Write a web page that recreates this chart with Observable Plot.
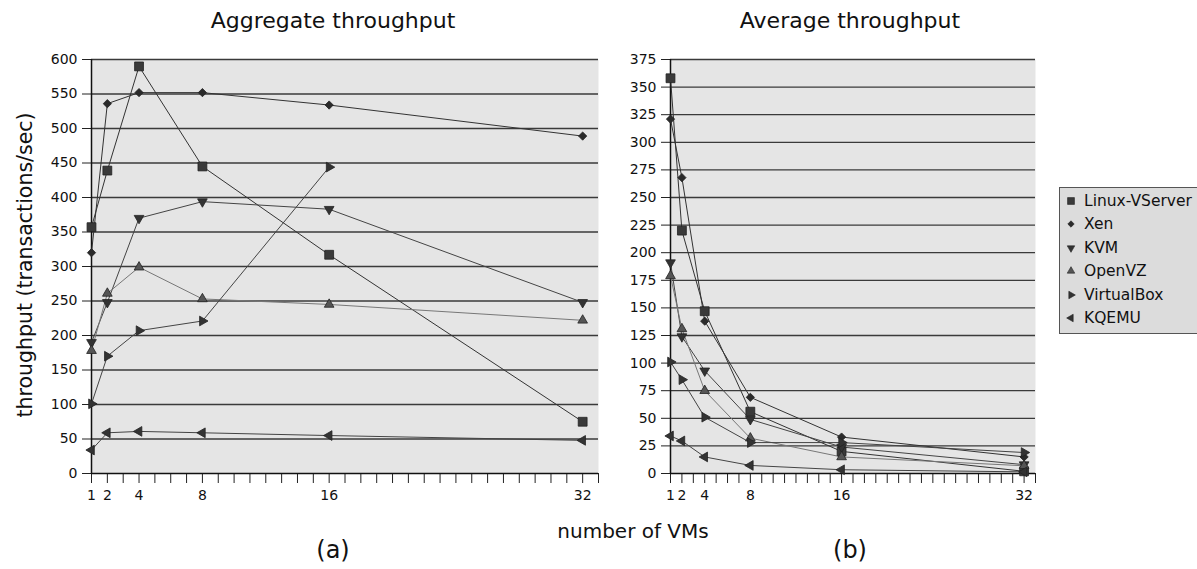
<!DOCTYPE html>
<html><head><meta charset="utf-8">
<script src="https://cdn.jsdelivr.net/npm/d3@7"></script>
<script src="https://cdn.jsdelivr.net/npm/@observablehq/plot@0.6"></script>
<style>
body{margin:0;background:#fff;font-family:"DejaVu Sans",sans-serif;}
#root{position:relative;width:1197px;height:569px;overflow:hidden;}
#root svg text{font-size:14px !important;font-family:"DejaVu Sans",sans-serif !important;fill:#111;}
.abs{position:absolute;}
.t{font-size:22px;color:#111;white-space:nowrap;transform:translateX(-50%);}
#legend{position:absolute;left:1059px;top:187px;width:150px;height:147px;background:#dcdcdc;border:1px solid #555;box-sizing:border-box;}
.li{position:absolute;left:3px;font-size:15.5px;color:#111;white-space:nowrap;display:flex;align-items:center;}
</style></head>
<body><div id="root"></div>
<script>
const vms = [1, 2, 4, 8, 16, 32];
const series = ["Linux-VServer", "Xen", "KVM", "OpenVZ", "VirtualBox", "KQEMU"];
const xTickLabels = [1, 2, 4, 8, 16, 32];

// Aggregate throughput (transactions/sec)
const aggVServer = [357, 439, 590, 445, 317, 75];
const aggXen = [320, 536, 552, 552, 534, 489];
const aggKVM = [190, 248, 370, 394, 383, 248];
const aggOpenVZ = [178, 261, 299, 253, 245, 222];
const aggVirtualBox = [101, 170, 207, 221, 444, null];
const aggKQEMU = [34, 59, 61, 59, 55, 48];

// Average throughput (transactions/sec)
const avgVServer = [358, 220, 147, 56, 20, 2];
const avgXen = [321, 268, 138, 69, 33, 15];
const avgKVM = [191, 124, 93, 49, 24, 8];
const avgOpenVZ = [179, 131, 75, 32, 15, 7];
const avgVirtualBox = [101, 85, 51, 28, 28, 19];
const avgKQEMU = [34, 29.5, 15, 7.3, 3.4, 1.5];

function tri(angle) {
  return { draw(ctx, size) {
    const R = Math.sqrt(size / (3 * Math.sqrt(3) / 4));
    for (let i = 0; i < 3; i++) {
      const a = angle + i * 2 * Math.PI / 3;
      const px = R * Math.cos(a), py = R * Math.sin(a);
      if (i === 0) ctx.moveTo(px, py); else ctx.lineTo(px, py);
    }
    ctx.closePath();
  }};
}
const diamond = { draw(ctx, size) {
  const h = Math.sqrt(size / 2);
  ctx.moveTo(0, -h); ctx.lineTo(h, 0); ctx.lineTo(0, h); ctx.lineTo(-h, 0); ctx.closePath();
}};
const styles = {
  "Linux-VServer": {symbol: "square", r: 5.0, fill: "#3a3a3a", line: "#333"},
  "Xen": {symbol: diamond, r: 3.3, fill: "#2a2a2a", line: "#333"},
  "KVM": {symbol: tri(Math.PI / 2), r: 3.6, fill: "#333", line: "#444"},
  "OpenVZ": {symbol: tri(-Math.PI / 2), r: 3.6, fill: "#555", line: "#777"},
  "VirtualBox": {symbol: tri(0), r: 3.6, fill: "#333", line: "#444"},
  "KQEMU": {symbol: tri(Math.PI), r: 3.6, fill: "#333", line: "#444"}
};

function rows(arrs) {
  const out = [];
  series.forEach((s, i) => vms.forEach((n, j) => {
    if (arrs[i][j] != null) out.push({series: s, n, v: arrs[i][j]});
  }));
  return out;
}
const aggRows = rows([aggVServer, aggXen, aggKVM, aggOpenVZ, aggVirtualBox, aggKQEMU]);
const avgRows = rows([avgVServer, avgXen, avgKVM, avgOpenVZ, avgVirtualBox, avgKQEMU]);

function panel(data, ymax, ystep, width, ml, mr) {
  const grid = d3.range(ystep, ymax + ystep / 2, ystep);
  const marks = [
    Plot.frame({fill: "#e5e5e5", stroke: null}),
    Plot.ruleY(grid, {stroke: "#3a3a3a", strokeWidth: 1.3}),
    Plot.axisY({ticks: d3.range(0, ymax + ystep / 2, ystep), tickSize: 9, tickPadding: 5, label: null, stroke: "#222"}),
    Plot.axisX({ticks: d3.range(1, 34), tickSize: 10, tickPadding: 7, label: null, stroke: "#222",
      tickFormat: d => xTickLabels.includes(d) ? String(d) : ""}),
    Plot.ruleX([1], {stroke: "#111", strokeWidth: 1.5}),
    Plot.ruleY([0], {stroke: "#111", strokeWidth: 1.5})
  ];
  for (const s of series) {
    const st = styles[s];
    const d = data.filter(r => r.series === s);
    marks.push(Plot.line(d, {x: "n", y: "v", stroke: st.line, strokeWidth: 1}));
  }
  for (const s of series) {
    const st = styles[s];
    const d = data.filter(r => r.series === s);
    marks.push(Plot.dot(d, {x: "n", y: "v", symbol: st.symbol, r: st.r, fill: st.fill, stroke: "#222", strokeWidth: 0.8}));
  }
  return Plot.plot({
    width, height: 569,
    marginLeft: ml, marginRight: mr, marginTop: 59, marginBottom: 96,
    x: {domain: [1, 33]},
    y: {domain: [0, ymax]},
    style: {fontFamily: "DejaVu Sans, sans-serif", fontSize: "14px", background: "transparent", color: "#111", overflow: "visible"},
    marks
  });
}

const root = document.getElementById("root");
const p1 = panel(aggRows, 600, 50, 610, 91, 12);
p1.style.position = "absolute"; p1.style.left = "0px"; p1.style.top = "0px";
root.appendChild(p1);
const p2 = panel(avgRows, 375, 25, 450, 70, 15);
p2.style.position = "absolute"; p2.style.left = "600px"; p2.style.top = "0px";
root.appendChild(p2);

function addText(txt, x, y, size, extra) {
  const d = document.createElement("div");
  d.className = "abs t"; d.textContent = txt;
  d.style.left = x + "px"; d.style.top = y + "px"; d.style.fontSize = size + "px";
  if (extra) Object.assign(d.style, extra);
  root.appendChild(d);
}
addText("Aggregate throughput", 333, 8, 22);
addText("Average throughput", 850, 8, 22);
addText("number of VMs", 633, 519, 20);
addText("(a)", 333, 536, 24);
addText("(b)", 850, 536, 24);
addText("throughput (transactions/sec)", 25, 265, 20.5, {transform: "translate(-50%,-50%) rotate(-90deg)"});

const lg = document.createElement("div"); lg.id = "legend";
series.forEach((s, i) => {
  const st = styles[s];
  const item = document.createElement("div"); item.className = "li";
  item.style.top = (4 + i * 23.4) + "px";
  const sym = d3.symbol(st.symbol === "square" ? d3.symbolSquare : st.symbol, st.r * st.r * Math.PI * 0.6)();
  item.innerHTML = `<svg width="16" height="18" style="margin-right:5px"><path d="${sym}" transform="translate(8,9)" fill="${st.fill}" stroke="#222" stroke-width="0.6"/></svg><span>${s}</span>`;
  lg.appendChild(item);
});
root.appendChild(lg);
</script>
</body></html>
